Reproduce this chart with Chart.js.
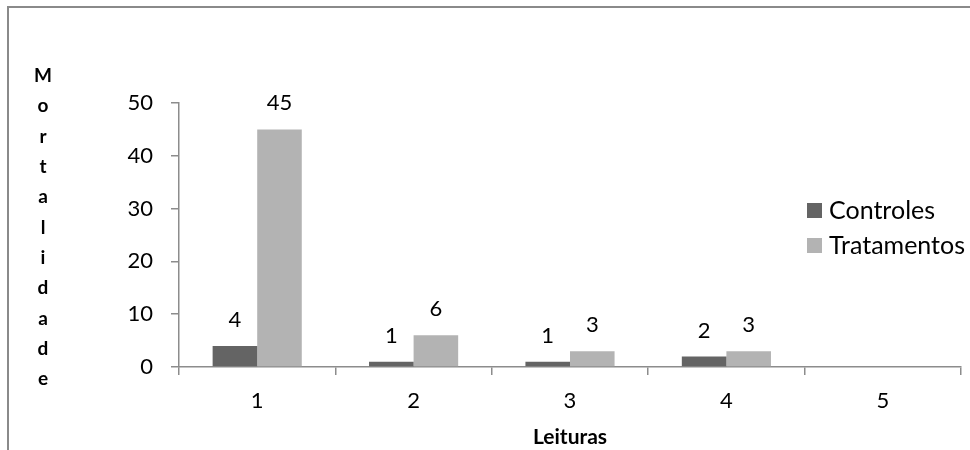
<!DOCTYPE html>
<html>
<head>
<meta charset="utf-8">
<script src="https://cdn.jsdelivr.net/npm/chart.js@4.4.1/dist/chart.umd.min.js"></script>
<style>
  html, body { margin: 0; padding: 0; background: #ffffff; }
  #wrap { width: 970px; height: 450px; position: relative; }
</style>
</head>
<body>
<div id="wrap"><canvas id="c" width="970" height="450"></canvas></div>
<script>
const categories = ['1', '2', '3', '4', '5'];
const controles = [4, 1, 1, 2, null];
const tratamentos = [45, 6, 3, 3, null];
const seriesNames = ['Controles', 'Tratamentos'];
const yTicks = [0, 10, 20, 30, 40, 50];
const yTitle = 'Mortalidade';
const xTitle = 'Leituras';

const FONT = 'Lato, "Open Sans", sans-serif';
const axisGray = '#8c8c8c';

const framePlugin = {
  id: 'frame',
  beforeDraw(chart) {
    const ctx = chart.ctx;
    ctx.save();
    ctx.fillStyle = '#ffffff';
    ctx.fillRect(0, 0, chart.width, chart.height);
    ctx.strokeStyle = '#8a8a8a';
    ctx.lineWidth = 2;
    ctx.strokeRect(8, 7, 1200, 800);
    ctx.restore();
  }
};

const labelsPlugin = {
  id: 'valueLabels',
  afterDatasetsDraw(chart) {
    const ctx = chart.ctx;
    ctx.save();
    ctx.font = '22px ' + FONT;
    ctx.fillStyle = '#000000';
    ctx.textAlign = 'center';
    ctx.textBaseline = 'middle';
    chart.data.datasets.forEach((ds, i) => {
      const meta = chart.getDatasetMeta(i);
      meta.data.forEach((bar, j) => {
        const v = ds.data[j];
        if (v === null || v === undefined) return;
        ctx.fillText(String(v), bar.x, bar.y - 26);
      });
    });
    ctx.restore();
  }
};

const extrasPlugin = {
  id: 'extras',
  afterDraw(chart) {
    const ctx = chart.ctx;
    const area = chart.chartArea;
    ctx.save();
    // vertical stacked y-axis title
    ctx.font = 'bold 19px ' + FONT;
    ctx.fillStyle = '#000000';
    ctx.textAlign = 'center';
    ctx.textBaseline = 'middle';
    const letters = yTitle.split('');
    const step = 30.3;
    const startY = 76;
    letters.forEach((ch, i) => ctx.fillText(ch, 43, startY + i * step));
    // x title
    ctx.font = 'bold 21px ' + FONT;
    ctx.fillText(xTitle, (area.left + area.right) / 2, 437);
    // legend
    ctx.font = '25px ' + FONT;
    ctx.textAlign = 'left';
    chart.data.datasets.forEach((ds, i) => {
      const cy = 210 + i * 35;
      ctx.fillStyle = ds.backgroundColor;
      ctx.fillRect(807, cy - 7, 15, 15);
      ctx.fillStyle = '#000000';
      ctx.fillText(ds.label, 829, cy + 1);
    });
    ctx.restore();
  }
};

new Chart(document.getElementById('c'), {
  type: 'bar',
  data: {
    labels: categories,
    datasets: [
      { label: seriesNames[0], data: controles, backgroundColor: '#646464' },
      { label: seriesNames[1], data: tratamentos, backgroundColor: '#b3b3b3' }
    ]
  },
  options: {
    responsive: false,
    animation: false,
    devicePixelRatio: 1,
    layout: { padding: { left: 0, right: 9, top: 103, bottom: 0 } },
    plugins: { legend: { display: false }, tooltip: { enabled: false } },
    datasets: { bar: { categoryPercentage: 0.57, barPercentage: 1.0 } },
    scales: {
      x: {
        grid: { display: true, drawOnChartArea: false, drawTicks: true, tickLength: 8, color: axisGray, lineWidth: 1.5, offset: true },
        border: { display: true, color: axisGray, width: 1.5 },
        ticks: { font: { family: FONT, size: 22 }, color: '#000000', padding: 13 },
        afterFit(scale) { scale.height = 83; }
      },
      y: {
        min: 0,
        max: 50,
        afterBuildTicks(scale) { scale.ticks = yTicks.map(v => ({ value: v })); },
        grid: { display: true, drawOnChartArea: false, drawTicks: true, tickLength: 8, color: axisGray, lineWidth: 1.5 },
        border: { display: true, color: axisGray, width: 1.5 },
        ticks: { font: { family: FONT, size: 22 }, color: '#000000', padding: 18 },
        afterFit(scale) { scale.width = 179; }
      }
    }
  },
  plugins: [framePlugin, labelsPlugin, extrasPlugin]
});
</script>
</body>
</html>
